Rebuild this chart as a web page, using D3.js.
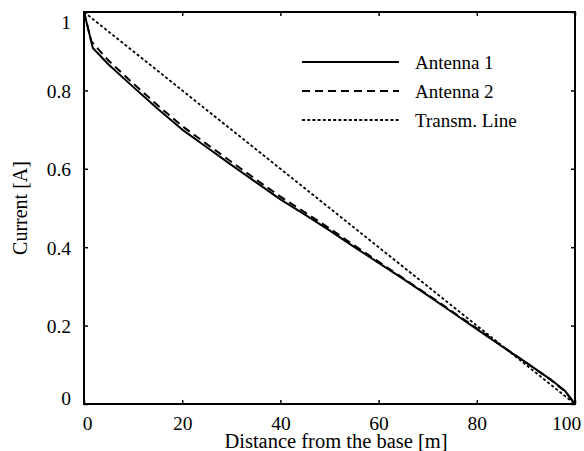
<!DOCTYPE html>
<html><head><meta charset="utf-8">
<script src="https://cdn.jsdelivr.net/npm/d3@7"></script>
<style>
html,body{margin:0;padding:0;background:#fff;}
svg text{font-family:"Liberation Serif","Times New Roman",serif;fill:#000;}
</style></head>
<body>
<svg id="chart" width="584" height="451"></svg>
<script>
// Data (distance in m, current in A)
const antenna1X = [0, 1.8, 5, 10, 15, 20, 25, 30, 35, 40, 45, 50, 55, 60, 65, 70, 75, 80, 85, 90, 95, 98, 100];
const antenna1Y = [1.0, 0.908, 0.866, 0.809, 0.753, 0.700, 0.655, 0.610, 0.566, 0.522, 0.483, 0.443, 0.401, 0.360, 0.319, 0.277, 0.234, 0.191, 0.148, 0.106, 0.063, 0.033, 0];
const antenna2X = [0, 1.5, 5, 10, 15, 20, 25, 30, 35, 40, 45, 50, 55, 60, 65, 70, 75, 80, 85, 90, 95, 98, 100];
const antenna2Y = [1.0, 0.925, 0.876, 0.818, 0.762, 0.709, 0.663, 0.618, 0.573, 0.529, 0.489, 0.448, 0.405, 0.363, 0.321, 0.279, 0.236, 0.193, 0.149, 0.106, 0.062, 0.032, 0];
const transmX = [0, 25, 50, 75, 100];
const transmY = [1.0, 0.75, 0.5, 0.25, 0];
const xTicks = [0, 20, 40, 60, 80, 100];
const yTicks = [0, 0.2, 0.4, 0.6, 0.8, 1];
const yTickLabels = ["0", "0.2", "0.4", "0.6", "0.8", "1"];
const seriesNames = ["Antenna 1", "Antenna 2", "Transm. Line"];

const svg = d3.select("#chart");
const L = 84, R = 575, T = 12, B = 404;
const x = d3.scaleLinear().domain([0, 100]).range([L, R]);
const y = d3.scaleLinear().domain([0, 1]).range([B, T]);

const series = [
  {name: seriesNames[0], xs: antenna1X, ys: antenna1Y, dash: null, w: 2},
  {name: seriesNames[1], xs: antenna2X, ys: antenna2Y, dash: "8,5", w: 2},
  {name: seriesNames[2], xs: transmX, ys: transmY, dash: "3,2.2", w: 1.8}
];

const line = d3.line().x(d => x(d[0])).y(d => y(d[1]));
const g = svg.append("g");
series.forEach(s => {
  g.append("path")
    .datum(s.xs.map((v, i) => [v, s.ys[i]]))
    .attr("d", line)
    .attr("fill", "none")
    .attr("stroke", "#000")
    .attr("stroke-width", s.w)
    .attr("stroke-dasharray", s.dash)
    .attr("stroke-linejoin", "round");
});

// frame
svg.append("rect").attr("x", L).attr("y", T).attr("width", R - L).attr("height", B - T)
  .attr("fill", "none").attr("stroke", "#000").attr("stroke-width", 2);

// axes with inward ticks
const fs = 19.5;
const xAxis = d3.axisBottom(x).tickValues(xTicks).tickSizeInner(-4).tickSizeOuter(0).tickPadding(12);
const xa = svg.append("g").attr("transform", `translate(0,${B})`).call(xAxis);
const xTop = d3.axisTop(x).tickValues(xTicks).tickSizeInner(-4).tickSizeOuter(0).tickFormat("");
svg.append("g").attr("transform", `translate(0,${T})`).call(xTop);
const yAxis = d3.axisLeft(y).tickValues(yTicks).tickSizeInner(-4).tickSizeOuter(0).tickPadding(14)
  .tickFormat((d, i) => yTickLabels[i]);
const ya = svg.append("g").attr("transform", `translate(${L},0)`).call(yAxis);
const yRight = d3.axisRight(y).tickValues(yTicks).tickSizeInner(-4).tickSizeOuter(0).tickFormat("");
svg.append("g").attr("transform", `translate(${R},0)`).call(yRight);

svg.selectAll(".domain").remove();
svg.selectAll(".tick line").attr("stroke", "#000").attr("stroke-width", 1.5);
svg.selectAll(".tick text").attr("font-size", fs).attr("font-family", "Liberation Serif, serif").attr("fill", "#000");
xa.selectAll(".tick text").attr("dy", "0").attr("y", 25.5);
// end labels nudged as in the reference
xa.selectAll(".tick text").filter(d => d === 100).attr("dx", -9);
xa.selectAll(".tick text").filter(d => d === 0).attr("dx", 3);
ya.selectAll(".tick text").attr("x", -13).attr("dy", "0.35em");
ya.selectAll(".tick text").filter(d => d === 1).attr("dy", "0.85em");
ya.selectAll(".tick text").filter(d => d === 0).attr("dy", "0.05em");

// axis titles
svg.append("text").attr("x", 336).attr("y", 448).attr("text-anchor", "middle")
  .attr("font-size", 20.5).text("Distance from the base [m]");
svg.append("text").attr("transform", `translate(27,${(T + B) / 2}) rotate(-90)`)
  .attr("text-anchor", "middle").attr("font-size", 20).text("Current [A]");

// legend
const lg = svg.append("g");
const ly = [62, 91, 120];
series.forEach((s, i) => {
  lg.append("line").attr("x1", 302).attr("x2", 399).attr("y1", ly[i]).attr("y2", ly[i])
    .attr("stroke", "#000").attr("stroke-width", s.w).attr("stroke-dasharray", s.dash);
  lg.append("text").attr("x", 415).attr("y", ly[i] + 7).attr("font-size", 19).text(s.name);
});
</script>
</body></html>
